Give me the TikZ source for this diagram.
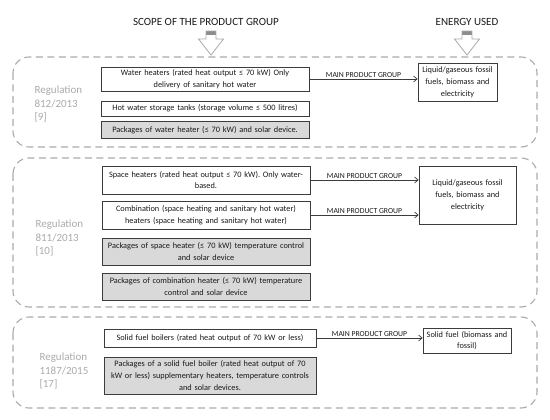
\documentclass[tikz,border=0pt]{standalone}
\usepackage{fontspec}
\setmainfont{Carlito}
\usepackage{tikz}
\usetikzlibrary{arrows,arrows.meta,shapes,positioning}
\usepackage{xcolor}
\definecolor{rglight}{RGB}{170,170,170}
\definecolor{rgmid}{RGB}{140,140,140}
\definecolor{rgdark}{RGB}{60,60,60}
\definecolor{rgtext}{RGB}{25,25,25}
\definecolor{rgfill}{RGB}{217,217,217}
\tikzstyle{arrow} = [-{Straight Barb[length=3.5pt,width=6pt]},color=rgdark,line width=0.7pt]
\tikzstyle{scopebox} = [rectangle, draw=rgdark, text=rgtext, text width=200pt, inner xsep=4pt, inner ysep=1pt, align=center, font=\fontsize{8.3}{11.8}\selectfont, line width=0.8pt]
\tikzstyle{pkgbox} = [scopebox, fill=rgfill]
\tikzstyle{panel} = [draw=rglight, dash pattern=on 7pt off 4.5pt, line width=1.1pt, rounded corners=16pt]
\tikzstyle{reglabel} = [anchor=west, align=left, text=rglight, font=\fontsize{11}{13.5}\selectfont]
\tikzstyle{grouplabel} = [above, midway, inner sep=1.5pt, text=rgtext, font=\fontsize{7.7}{9}\selectfont]
\tikzstyle{header} = [text=rgtext, font=\fontsize{11}{13}\selectfont]

\begin{document}
\begin{tikzpicture}[x=1pt,y=-1pt]
\useasboundingbox (0,0) rectangle (550,420);

% Headers and block arrows
\node[header] (scope) at (206,22) {SCOPE OF THE PRODUCT GROUP};
\node[header] (energy) at (467,22) {ENERGY USED};
\foreach \x in {211,467} {
  \fill[rgmid] (\x-5,31) rectangle (\x+5,35);
  \draw[rglight, line width=0.8pt] (\x-5,31) -- (\x-5,39) -- (\x-12.5,39) -- (\x,55) -- (\x+12.5,39) -- (\x+5,39) -- (\x+5,31) -- cycle;
}

% Three regulation panels
\draw[panel] (13,57) rectangle (537,147);
\draw[panel] (13,158) rectangle (537,307);
\draw[panel] (13,317) rectangle (537,408);

% Regulation 812/2013
\node[reglabel] (reg812) at (31,104) {Regulation\\812/2013\\{[9]}};
\node[scopebox, minimum height=24pt] (wh) at (205,79) {Water heaters (rated heat output ≤ 70 kW) Only\\delivery of sanitary hot water};
\node[scopebox, minimum height=15pt] (tank) at (205,108.5) {Hot water storage tanks (storage volume ≤ 500 litres)};
\node[pkgbox, minimum height=17pt] (pkgwh) at (205,130) {Packages of water heater (≤ 70 kW) and solar device.};
\node[scopebox, text width=71pt, minimum height=38pt] (fuel1) at (457.5,82) {Liquid/gaseous fossil\\fuels, biomass and\\electricity};
\draw[arrow] (wh.east) -- node[grouplabel] {MAIN PRODUCT GROUP} (wh.east -| fuel1.west);

% Regulation 811/2013
\node[reglabel] (reg811) at (32,238) {Regulation\\811/2013\\{[10]}};
\node[scopebox, minimum height=28pt] (sh) at (206,180) {Space heaters (rated heat output ≤ 70 kW). Only water-\\based.};
\node[scopebox, minimum height=28pt] (comb) at (206,215) {Combination (space heating and sanitary hot water)\\heaters (space heating and sanitary hot water)};
\node[pkgbox, minimum height=27pt] (pkgsh) at (206,251.5) {Packages of space heater (≤ 70 kW) temperature control\\and solar device};
\node[pkgbox, minimum height=27pt] (pkgcomb) at (206,286.5) {Packages of combination heater (≤ 70 kW) temperature\\control and solar device};
\node[scopebox, text width=89pt, minimum height=58pt] (fuel2) at (467.5,195) {Liquid/gaseous fossil\\fuels, biomass and\\electricity};
\draw[arrow] (sh.east) -- node[grouplabel] {MAIN PRODUCT GROUP} (sh.east -| fuel2.west);
\draw[arrow] (comb.east) -- node[grouplabel] {MAIN PRODUCT GROUP} (comb.east -| fuel2.west);

% Regulation 1187/2015
\node[reglabel] (reg1187) at (36,371) {Regulation\\1187/2015\\{[17]}};
\node[scopebox, text width=204pt, minimum height=18pt] (sfb) at (210,338) {Solid fuel boilers (rated heat output of 70 kW or less)};
\node[pkgbox, text width=204pt, minimum height=37pt] (pkgsfb) at (210,375.5) {Packages of a solid fuel boiler (rated heat output of 70\\kW or less) supplementary heaters, temperature controls\\and solar devices.};
\node[scopebox, text width=84pt, inner xsep=2pt, minimum height=25pt] (fuel3) at (467,340.5) {Solid fuel (biomass and\\fossil)};
\draw[arrow] (sfb.east) -- node[grouplabel] {MAIN PRODUCT GROUP} (sfb.east -| fuel3.west);
\end{tikzpicture}
\end{document}
